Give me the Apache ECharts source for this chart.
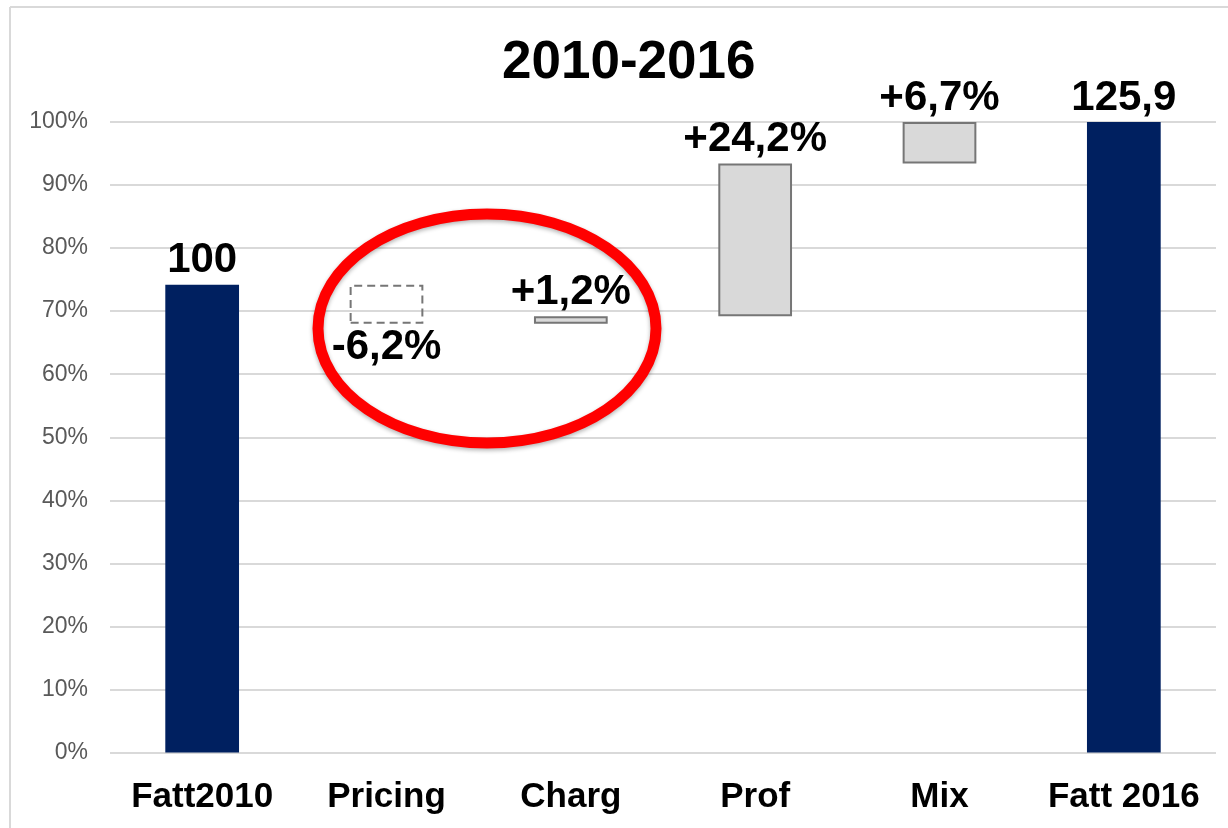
<!DOCTYPE html>
<html>
<head>
<meta charset="utf-8">
<title>2010-2016</title>
<script src="https://cdn.jsdelivr.net/npm/echarts@6/dist/echarts.min.js"></script>
<style>
  html, body { margin: 0; padding: 0; background: #fff; }
  #chart { width: 1228px; height: 828px; }
</style>
</head>
<body>
<div id="chart"></div>
<script>
// dati (percentuali sull'asse)
var categories = ["Fatt2010", "Pricing", "Charg", "Prof", "Mix", "Fatt 2016"]
var barBottom = [0, 68.0, 68.0, 69.2, 93.4, 0]
var barTop = [74.2, 74.2, 69.2, 93.4, 100, 100]
var barKind = ["total", "down", "up", "up", "up", "total"]
var barLabels = ["100", "-6,2%", "+1,2%", "+24,2%", "+6,7%", "125,9"]
var yTicks = [0, 10, 20, 30, 40, 50, 60, 70, 80, 90, 100]

var FONT = "'Liberation Sans', Arial, sans-serif"

// stile per tipo di barra
var kindStyle = {
  total: { color: "#002060", borderWidth: 0 },
  up: { color: "#d9d9d9", borderColor: "#767676", borderWidth: 2 },
  down: { color: "rgba(0,0,0,0)", borderColor: "#767676", borderWidth: 2, borderType: [8, 5] },
}

var chart = echarts.init(document.getElementById("chart"))

// base invisibile + parte visibile della cascata
var baseData = barBottom.map(function (v) { return v })
var valueData = barTop.map(function (top, i) {
  return {
    value: top - barBottom[i],
    itemStyle: kindStyle[barKind[i]],
    label: {
      show: true,
      position: barKind[i] === "down" ? "bottom" : "top",
      formatter: barLabels[i],
    },
  }
})

var option = {
  animation: false,
  title: {
    text: "2010-2016",
    left: 497,
    top: 32,
    textStyle: { fontFamily: FONT, fontSize: 53, fontWeight: "bold", color: "#000" },
  },
  grid: { left: 110, right: 12, top: 122, bottom: 75.5, containLabel: false },
  xAxis: {
    type: "category",
    data: categories,
    axisLine: { show: false },
    axisTick: { show: false },
    axisLabel: {
      interval: 0,
      hideOverlap: false,
      margin: 27,
      fontFamily: FONT,
      fontSize: 35,
      fontWeight: "bold",
      color: "#000",
    },
  },
  yAxis: {
    type: "value",
    min: 0,
    max: 100,
    interval: 10,
    axisLine: { show: false },
    axisTick: { show: false },
    splitLine: { lineStyle: { color: "#d9d9d9", width: 2 } },
    axisLabel: {
      margin: 22,
      fontFamily: FONT,
      fontSize: 23,
      color: "#595959",
      formatter: function (v) { return yTicks.indexOf(v) >= 0 ? v + "%" : "" },
    },
  },
  series: [
    {
      name: "base",
      type: "bar",
      stack: "w",
      barWidth: "40%",
      itemStyle: { color: "rgba(0,0,0,0)" },
      emphasis: { disabled: true },
      data: baseData,
    },
    {
      name: "valore",
      type: "bar",
      stack: "w",
      barWidth: "40%",
      label: {
        distance: 3,
        fontFamily: FONT,
        fontSize: 42,
        fontWeight: "bold",
        color: "#000",
      },
      data: valueData,
    },
  ],
  graphic: [
    // cornice dell'immagine
    { type: "line", shape: { x1: 10, y1: 7, x2: 1228, y2: 7 }, style: { stroke: "#d9d9d9", lineWidth: 2 } },
    { type: "line", shape: { x1: 10, y1: 7, x2: 10, y2: 828 }, style: { stroke: "#d9d9d9", lineWidth: 2 } },
    // ellisse rossa di evidenziazione
    {
      type: "ellipse",
      shape: { cx: 487, cy: 328.5, rx: 169, ry: 114.5 },
      style: {
        fill: null,
        stroke: "#ff0000",
        lineWidth: 11,
        shadowBlur: 4,
        shadowColor: "rgba(0,0,0,0.3)",
        shadowOffsetY: 2,
      },
      z: 100,
    },
  ],
}

chart.setOption(option)
</script>
</body>
</html>
